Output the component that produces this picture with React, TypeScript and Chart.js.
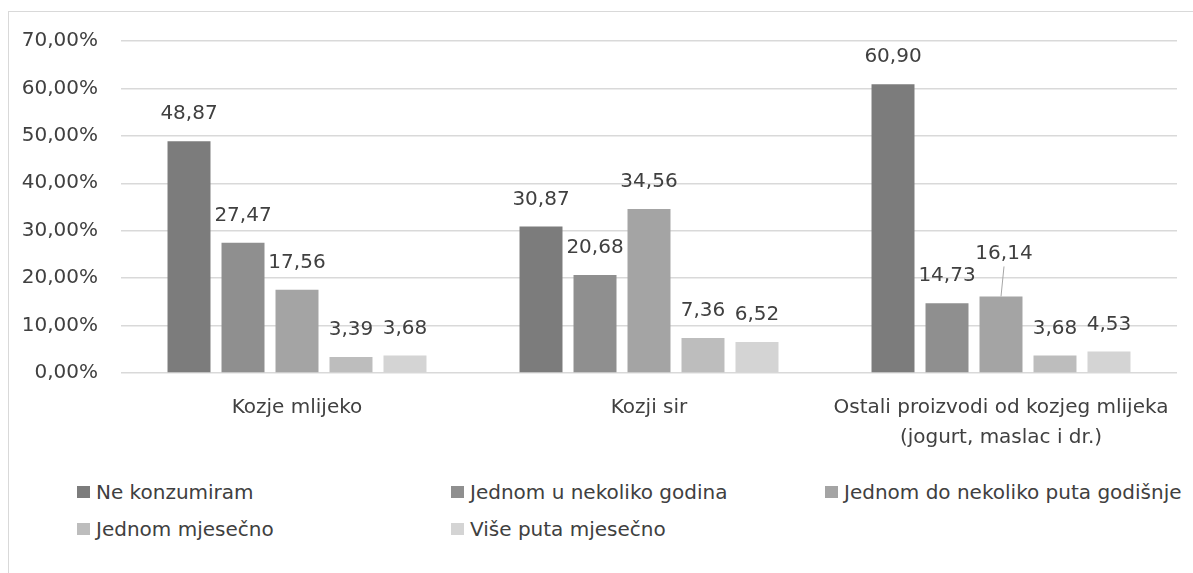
import { useEffect, useRef } from 'react'
import { Chart, registerables } from 'chart.js'
import type { Plugin } from 'chart.js'
Chart.register(...registerables)

const CATEGORIES = ['Kozje mlijeko', 'Kozji sir', ['Ostali proizvodi od kozjeg mlijeka', '(jogurt, maslac i dr.)']]
const SERIES = ['Ne konzumiram', 'Jednom u nekoliko godina', 'Jednom do nekoliko puta godišnje', 'Jednom mjesečno', 'Više puta mjesečno']
const NE_KONZUMIRAM = [48.87, 30.87, 60.9]
const JEDNOM_U_NEKOLIKO_GODINA = [27.47, 20.68, 14.73]
const JEDNOM_DO_NEKOLIKO_PUTA = [17.56, 34.56, 16.14]
const JEDNOM_MJESECNO = [3.39, 7.36, 3.68]
const VISE_PUTA_MJESECNO = [3.68, 6.52, 4.53]
const Y_MAX = 70
const Y_STEP = 10

const COLORS = ['#7c7c7c', '#8f8f8f', '#a4a4a4', '#bdbdbd', '#d4d4d4']
const FONT = "'DejaVu Sans', sans-serif"
const TEXT = '#404040'
const GRID = '#d9d9d9'
// the 16,14 label was dragged up in the original, with a leader line
const MOVED = { ds: 2, i: 2, dx: 3, dy: -16 }

const fmt = (v: number) => v.toFixed(2).replace('.', ',')

const barLabels: Plugin<'bar'> = {
  id: 'barLabels',
  afterDatasetsDraw(chart) {
    const ctx = chart.ctx
    ctx.save()
    ctx.font = `20px ${FONT}`
    ctx.fillStyle = TEXT
    ctx.textAlign = 'center'
    ctx.textBaseline = 'middle'
    chart.data.datasets.forEach((ds, di) => {
      chart.getDatasetMeta(di).data.forEach((bar, i) => {
        const moved = MOVED.ds === di && MOVED.i === i
        const x = bar.x + (moved ? MOVED.dx : 0)
        const y = bar.y - 27 + (moved ? MOVED.dy : 0)
        if (moved) {
          ctx.strokeStyle = '#a6a6a6'
          ctx.lineWidth = 1
          ctx.beginPath()
          ctx.moveTo(x, y + 13)
          ctx.lineTo(bar.x, bar.y)
          ctx.stroke()
        }
        ctx.fillText(fmt(ds.data[i] as number), x, y)
      })
    })
    ctx.restore()
  }
}

export default function App() {
  const ref = useRef<HTMLCanvasElement>(null)

  useEffect(() => {
    document.body.style.margin = '0'
    if (!ref.current) return
    const values = [NE_KONZUMIRAM, JEDNOM_U_NEKOLIKO_GODINA, JEDNOM_DO_NEKOLIKO_PUTA, JEDNOM_MJESECNO, VISE_PUTA_MJESECNO]
    const chart = new Chart(ref.current, {
      type: 'bar',
      data: {
        labels: CATEGORIES,
        datasets: SERIES.map((s, k) => ({
          label: s, data: values[k], backgroundColor: COLORS[k],
          categoryPercentage: 0.767, barPercentage: 0.796
        }))
      },
      options: {
        animation: false, responsive: true, maintainAspectRatio: false,
        layout: { padding: { top: 41, right: 16, left: 0, bottom: 0 } },
        plugins: { legend: { display: false }, tooltip: { enabled: false } },
        scales: {
          x: {
            grid: { display: false, drawTicks: false }, border: { display: false },
            ticks: { color: TEXT, font: { size: 20, family: FONT, lineHeight: 1.5 }, padding: 20, maxRotation: 0, autoSkip: false },
            afterFit: (s) => { s.height = 87 }
          },
          y: {
            min: 0, max: Y_MAX,
            grid: { color: GRID, lineWidth: 1.5, drawTicks: false }, border: { display: false },
            ticks: { stepSize: Y_STEP, color: TEXT, font: { size: 20, family: FONT }, padding: 23, callback: (v) => fmt(+v) + '%' },
            afterFit: (s) => { s.width = 121 }
          }
        }
      },
      plugins: [barLabels]
    })
    return () => chart.destroy()
  }, [])

  return (
    <div style={{ position: 'relative', width: 1193, height: 573, overflow: 'hidden', background: '#fff', fontFamily: FONT, color: TEXT }}>
      <div style={{ position: 'absolute', left: 8, top: 11, width: 1400, height: 800, border: `1px solid ${GRID}` }} />
      <div style={{ position: 'absolute', left: 0, top: 0, width: 1193, height: 460 }}>
        <canvas ref={ref} />
      </div>
      <div style={{ position: 'absolute', left: 77, top: 478, display: 'grid', gridTemplateColumns: 'repeat(3, 374px)', rowGap: 9 }}>
        {SERIES.map((s, k) => (
          <div key={s} style={{ display: 'flex', alignItems: 'center', height: 28, fontSize: 20, whiteSpace: 'nowrap' }}>
            <span style={{ width: 13, height: 12, background: COLORS[k], marginRight: 6, flexShrink: 0 }} />
            {s}
          </div>
        ))}
      </div>
    </div>
  )
}
